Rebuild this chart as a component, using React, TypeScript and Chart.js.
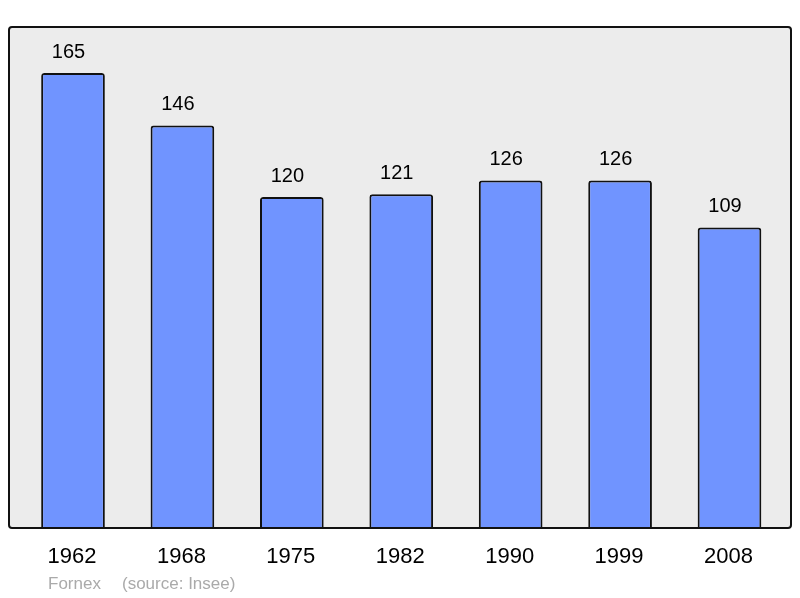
import React, { useEffect, useRef } from "react";
import { Chart, registerables } from "chart.js";

Chart.register(...registerables);

const years = ["1962", "1968", "1975", "1982", "1990", "1999", "2008"];
const population = [165, 146, 120, 121, 126, 126, 109];
const footerName = "Fornex";
const footerSource = "(source: Insee)";

const FONT = "'Liberation Sans', Arial, sans-serif";

const framePlugin = {
  id: "frame",
  beforeDraw(chart: any) {
    const ctx = chart.ctx;
    ctx.save();
    ctx.fillStyle = "#ffffff";
    ctx.fillRect(0, 0, chart.width, chart.height);
    ctx.beginPath();
    ctx.roundRect(9, 27, 782, 501, 3);
    ctx.fillStyle = "#ececec";
    ctx.fill();
    ctx.restore();
  },
  afterDatasetsDraw(chart: any) {
    const ctx = chart.ctx;
    const meta = chart.getDatasetMeta(0);
    const xScale = chart.scales.x;
    ctx.save();
    ctx.beginPath();
    ctx.roundRect(9, 27, 782, 501, 3);
    ctx.lineWidth = 2;
    ctx.strokeStyle = "#111111";
    ctx.stroke();

    ctx.fillStyle = "#000000";
    ctx.textAlign = "center";
    ctx.textBaseline = "middle";
    ctx.font = `20px ${FONT}`;
    meta.data.forEach((el: any, i: number) => {
      ctx.fillText(String(population[i]), el.x - 4.5, el.y - 21);
    });
    ctx.font = `22px ${FONT}`;
    years.forEach((y, i) => {
      ctx.fillText(y, xScale.getPixelForValue(i) - 1, 557);
    });
    ctx.font = `17px ${FONT}`;
    ctx.fillStyle = "#aaaaaa";
    ctx.textAlign = "left";
    ctx.fillText(footerName, 48, 584);
    ctx.fillText(footerSource, 122, 584);
    ctx.restore();
  },
};

export default function App() {
  const ref = useRef<HTMLCanvasElement>(null);
  useEffect(() => {
    if (!ref.current) return;
    const chart = new Chart(ref.current, {
      type: "bar",
      data: {
        labels: years,
        datasets: [
          {
            data: population,
            backgroundColor: "#7094ff",
            borderColor: "#111111",
            borderWidth: 2,
            borderRadius: 3,
            borderSkipped: "start",
            barPercentage: 0.582,
            categoryPercentage: 1,
          },
        ],
      },
      options: {
        animation: false,
        responsive: false,
        maintainAspectRatio: false,
        layout: { padding: { left: 18.3, right: 15.8, top: 27, bottom: 70 } },
        plugins: { legend: { display: false }, tooltip: { enabled: false } },
        scales: {
          x: { display: false },
          y: { display: false, min: 0, max: 181.7 },
        },
      },
      plugins: [framePlugin],
    });
    return () => chart.destroy();
  }, []);
  return (
    <div style={{ position: "fixed", left: 0, top: 0, width: 800, height: 598 }}>
      <canvas ref={ref} width={800} height={598} style={{ width: 800, height: 598 }} />
    </div>
  );
}
